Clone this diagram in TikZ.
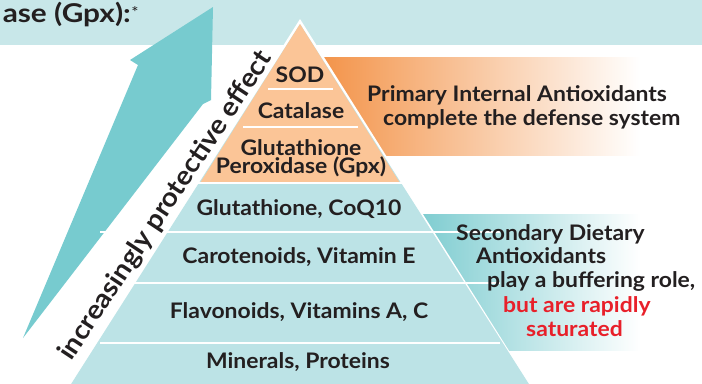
\documentclass[tikz,border=0pt]{standalone}
\usepackage{fontspec}
\setmainfont{Lato}[FakeStretch=1.07]
\newfontfamily\bannerfont{Lato}[FakeStretch=1.15]
\definecolor{banner}{HTML}{C8E7E9}
\definecolor{arrowc}{HTML}{77CBCF}
\definecolor{layerteal}{HTML}{BCE3E6}
\definecolor{layerorange}{HTML}{FBC597}
\definecolor{orngD}{HTML}{F3944A}
\definecolor{orngM}{HTML}{FBCBA2}
\definecolor{tealD}{HTML}{78CACE}
\definecolor{tealM}{HTML}{C2E7E9}
\definecolor{txt}{HTML}{231F20}
\definecolor{redtxt}{HTML}{E8202A}
\tikzset{
  lbl/.style={font=\fontsize{21.5}{24}\selectfont\bfseries, text=txt, inner sep=0pt, anchor=base},
  sidelbl/.style={font=\fontsize{21.5}{24}\selectfont\bfseries, text=txt, inner sep=0pt, anchor=base west},
  sep/.style={white, line width=2.6bp},
}
\begin{document}
\begin{tikzpicture}[x=1bp,y=-1bp]
\useasboundingbox (0,0) rectangle (702,383);
% banner
\fill[banner] (0,0) rectangle (702,45);
\node[font=\bannerfont\fontsize{26}{28}\selectfont\bfseries, text=txt, inner sep=0pt, anchor=base east] (bt) at (131,22) {ase (Gpx):};
\node[font=\fontsize{16}{18}\selectfont, text=txt, inner sep=0pt] (star) at (135,12) {*};
% arrow
\fill[arrowc] (213,7) -- (211,100) -- (203,104) -- (23,338) -- (138,65) -- (130,60) -- cycle;
% side bands
\shade[left color=orngD, middle color=orngM, right color=white] (322,57) rectangle (640,155);
\shade[left color=tealD, middle color=tealM, right color=white] (410,214) rectangle (640,350);
% pyramid
\coordinate (apex) at (300,24);
\fill[white] (300,19) -- (535,392) -- (65,392) -- cycle;
\fill[layerteal] (apex) -- (534,392) -- (66,392) -- cycle;
\fill[layerorange] (apex) -- (400,183) -- (200,183) -- cycle;
\draw[sep] (150,183) -- (450,183);
\draw[sep] (100,232) -- (500,232);
\draw[sep] (100,283) -- (500,283);
\draw[sep] (100,343) -- (500,343);
\draw[white, line width=2bp] (268,89) -- (333,89);
\draw[white, line width=2bp] (243,127) -- (358,127);
% pyramid labels
\node[lbl] (sod) at (300,82) {SOD};
\node[lbl] (cat) at (301,118) {Catalase};
\node[lbl] (gpx1) at (301,155) {Glutathione};
\node[lbl] (gpx2) at (301,173) {Peroxidase (Gpx)};
\node[lbl] (coq) at (299,215) {Glutathione, CoQ10};
\node[lbl] (car) at (299,263) {Carotenoids, Vitamin E};
\node[lbl] (fla) at (299,318) {Flavonoids, Vitamins A, C};
\node[lbl] (min) at (298,368) {Minerals, Proteins};
% rotated label
\node[font=\fontsize{26.5}{30}\selectfont\bfseries, text=txt, inner sep=0pt, rotate=56.5] (eff) at (166,206) {increasingly protective effect};
% side texts
\node[sidelbl] (p1) at (367,101) {Primary Internal Antioxidants};
\node[sidelbl] (p2) at (383,125) {complete the defense system};
\node[sidelbl] (s1) at (456,240) {Secondary Dietary};
\node[sidelbl] (s2) at (476,263) {Antioxidants};
\node[sidelbl] (s3) at (487,287) {play a buffering role,};
\node[sidelbl, text=redtxt] (s4) at (503,312) {but are rapidly};
\node[sidelbl, text=redtxt] (s5) at (526,336) {saturated};
\end{tikzpicture}
\end{document}
